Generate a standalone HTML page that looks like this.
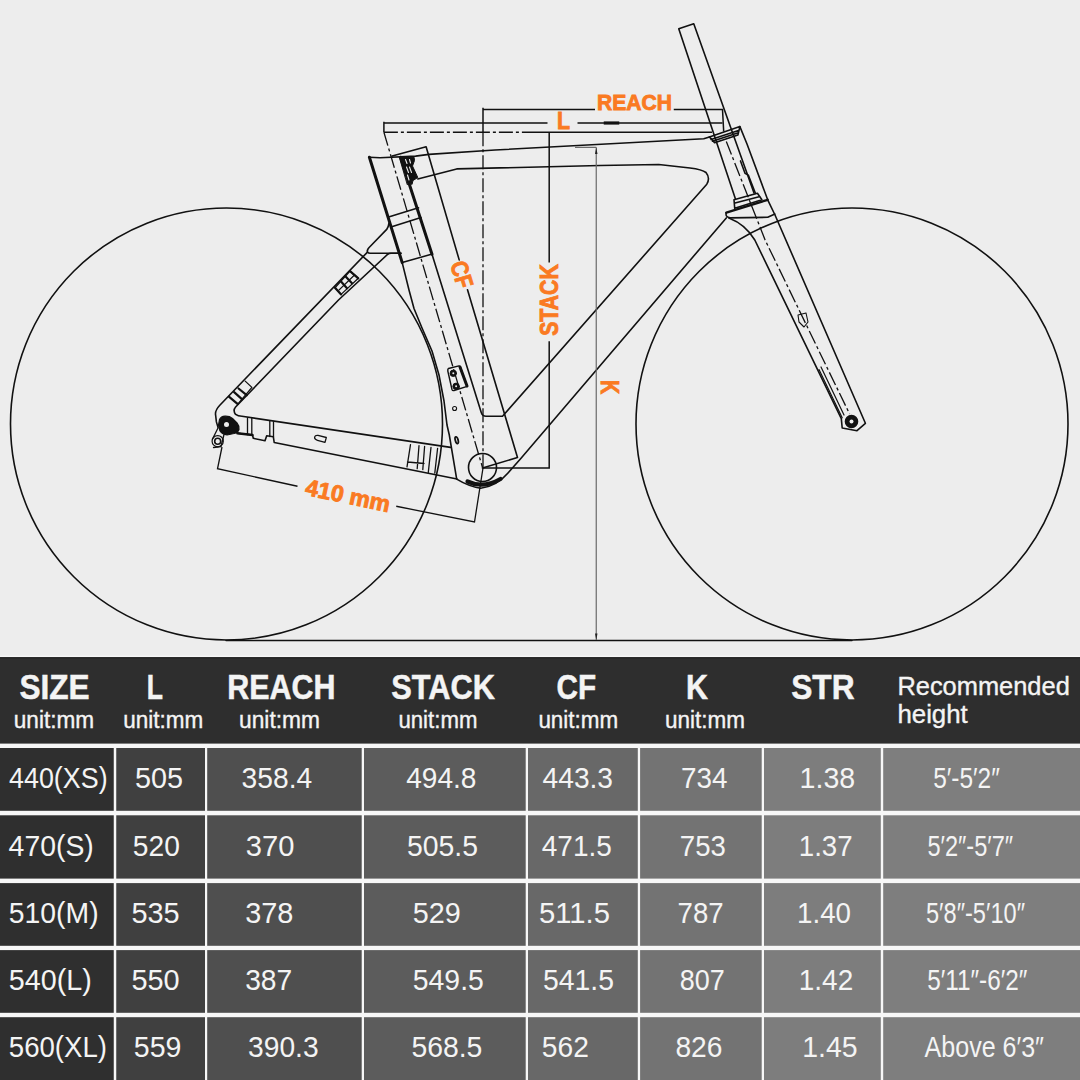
<!DOCTYPE html><html><head><meta charset="utf-8"><style>html,body{margin:0;padding:0;background:#ededed;width:1080px;height:1080px;overflow:hidden}svg{display:block}text{font-family:"Liberation Sans",sans-serif}</style></head><body>
<svg width="1080" height="1080" viewBox="0 0 1080 1080">
<rect x="0" y="0" width="1080" height="1080" fill="#ededed"/>
<g fill="none" stroke="#111" stroke-width="1.6" stroke-linejoin="round" stroke-linecap="round">
<!-- wheels -->
<circle cx="226.5" cy="424" r="216"/>
<circle cx="852" cy="424" r="216"/>
<line x1="226" y1="640.4" x2="852" y2="640.4" stroke-width="1.5"/>
<!-- seat stay -->
<path d="M388.9 223.3 Q388.5 227 386.7 229.4 L368.9 247.8 Q366.5 250.5 367.6 252.3 Q368.5 253.4 370.5 253.3 L401 253.3"/>
<path d="M367 252.6 L219.8 405.2 Q214.8 410.5 215.6 415 L216.4 421.9 L218 427.4"/>
<path d="M401 253.3 L391 253.3 Q389 253.5 387.8 254.2 L338.5 300 L235.6 407 Q232.6 410.5 235.6 414.4 Q238 416.3 242 416.3 L450.6 447.4"/>
<!-- chainstay bottom -->
<path d="M237.4 433.3 L252.5 435 L253.3 438.3 L265 440.8 L266.7 435.8 L273.3 436.7 L274.2 442.5 L457 479"/>
<!-- seat tube rear edge & BB bottom -->
<path d="M402.2 262.6 L409 290 L414 308.5 L422 328 L432 351 L439 375 L444 401 L447 425 L449.3 435 L456.7 479.1 Q468 486 480.7 488.3 Q497 486 508 473 L520.6 458.7 L726.3 217.9"/>
<!-- seatpost -->
<path d="M369.4 157.2 L402.2 262.6" stroke-width="3"/>
<path d="M400.6 157.2 L432 254.3" stroke-width="3"/>
<path d="M432 254.3 L481.25 412.5 Q482.5 416.25 486 416.25 L502.5 416.25 L706.8 184.2 Q710.5 178 706 172.5 Q702 169.5 690 168 L658.75 164.5 L600 165.5 L456.7 168.9 L417.8 178.9"/>
<path d="M389.4 216.8 L418.5 207.8 M392.5 226.5 L421 217.5 M402.2 262.6 L431.4 254.3"/>
<!-- top tube top edge -->
<path d="M369.4 157.2 L380 157.8 L415.6 156.1 L428.9 154.4 L495 150 L703.75 138.75 L709.4 136.9"/>
<!-- seat cluster top + CF line -->
<path d="M392.2 156.1 L426.1 146.7 L459.2 259.9 M467.5 289.7 L517.5 457.5 L482.5 468"/>
<!-- seat clamp -->
<path d="M399.5 156.6 L414.1 157.3 L414.5 160.5 L412.5 166 L417.8 177.5 L413 180.5 L412 184.5 L410 183 L407.6 184.5 Z" fill="#111" stroke-width="1"/><path d="M405.5 159.5 L407 163.5 M409.5 159.5 L410.5 163 M406.5 167 L408.5 172.5 M409.5 167 L411.5 172.5 M407.5 175 L409 180" stroke="#ededed" stroke-width="1.1"/>
<!-- stem / steerer -->
<path d="M678.75 28.75 L693.75 23.75 L754 193 M678.75 28.75 L735.3 198.5"/>
<!-- upper headset -->
<path d="M709.4 136.9 L739.9 126.6 L737.9 135 L714.6 142.8 Z M711 139.5 L738.5 130.5 M712.5 141.2 L738.2 132.8"/>
<!-- head tube right edge + fork right -->
<path d="M739.9 126.6 L747 144 L767.7 199.8 L775 215 L865.4 423.3 L857 430.7 L842.2 428 L841.3 418.7 L754.8 240 Q745.7 224.4 728.9 217.9"/>
<path d="M740.5 160.9 L745 173.2 L748.3 175.1 L755.4 193.3"/>
<!-- lower headset -->
<path d="M734 199.8 L757.4 193.3 L761.9 199.8 L734.7 208.2 Z M735 203 L760 196.5"/>
<path d="M726.3 212.7 L767.7 199.8" stroke-width="2.4"/>
<path d="M726.3 212.7 Q725 217 730 217.9 L767.7 217.3 L774.9 214"/>
<!-- fork details -->
<path d="M819 369.6 L842.2 417.8 M821 367 L844 415" stroke-width="1.2"/>
<path d="M798 315 L806 313 L808 322 L804 327 L799 322 Z" stroke-width="1.1"/>
<circle cx="851.5" cy="421.5" r="6" fill="#111"/>
<circle cx="851.5" cy="421.5" r="2" fill="#ededed" stroke="none"/>
<!-- rear dropout -->
<path d="M218.5 425 L219.5 419.5 Q221 416.5 225 416.2 Q229.5 416 232.5 418.5 L237 423 Q239.5 426 239 429.5 Q238 432.5 234 433.5 L227 435 Q222.5 434.5 220 431 Z" fill="#111" stroke-width="1.2"/>
<circle cx="226.5" cy="424.4" r="2.5" fill="#ededed" stroke="none"/>
<circle cx="217.7" cy="441.2" r="5.6" stroke-width="1.2"/>
<circle cx="217.7" cy="441.2" r="3" stroke-width="1.6"/>
<path d="M218 428 L212.5 439 M224 434.5 L221 446.5 L213.5 447.5" stroke-width="1.3"/>
<path d="M237.4 433.3 L252.5 435" stroke-width="2.4"/>
<!-- seat stay stripes -->
<path d="M228.9 396.7 L237.8 404.1 M234.1 392.2 L242.2 399.3 M238.5 388.5 L246.7 395.2" stroke-width="2.2"/><path d="M245.2 381.1 L251.9 387.4 M237.8 404.1 L251.9 387.4" stroke-width="1.3"/>
<path d="M335 287.8 L341.1 294.4 L358.3 278.3 L350 271.1 Z" stroke-width="1.3"/><path d="M335 287.8 L341.1 294.4 M341 281.5 L347 288.3 M345.6 276.6 L352 283.3 M350 271.1 L358.3 278.3" stroke-width="2.2"/><path d="M339 290 L354.5 275" stroke-width="1.1"/>
<!-- chainstay details -->
<path d="M247.5 418 L247.5 434.5 M251.8 418.5 L251.8 435 M269.8 421 L269.8 436.5 M273.5 421.5 L273.5 437" stroke-width="1.3"/>
<path d="M410.5 444.6 L407 466.9 M419 445.6 L417.2 468.7 M424.6 446.5 L422.8 469.6 M431 447.4 L428.3 472.4 M437.6 448.3 L434.8 473 M407.5 462 L424 463.5" stroke-width="1.3"/>
<path d="M314.6 437.6 Q314.8 435 318 435.4 L326.3 437.5 L325 442.4 L317.5 440.4 Q314.6 439.6 314.6 437.6 Z" stroke-width="1.3"/>
<!-- BB -->
<circle cx="482.5" cy="467.5" r="14"/>
<path d="M467.5 481.5 Q483 489 500.5 479" stroke-width="4.2"/>
<!-- seat tube ports -->
<path d="M448.5 368.5 L458.9 365.9 Q460 366 460.5 367.5 L467.2 386.3 L454 390.5 Q452.5 391 452 389.5 L447.8 371 Q447.5 369 448.5 368.5 Z" stroke-width="1.4"/>
<path d="M460 367 L467 386" stroke-width="3"/>
<circle cx="453.3" cy="373.3" r="3.2" fill="#111" stroke-width="1"/><circle cx="453.3" cy="373.3" r="1" fill="#ededed" stroke="none"/>
<circle cx="456.1" cy="386.3" r="3.2" fill="#111" stroke-width="1"/><circle cx="456.1" cy="386.3" r="1" fill="#ededed" stroke="none"/>
<circle cx="454.6" cy="408.5" r="2" stroke-width="1.1"/>
<ellipse cx="456.7" cy="440.2" rx="1.4" ry="3.5" transform="rotate(-15 456.7 440.2)" stroke-width="1.8"/>
</g>
<!-- dimension lines -->
<g fill="none" stroke="#111" stroke-width="1.5">
<path d="M483 109.5 H595 M673.75 109.5 H722.5 L723.7 131.5"/>
<path d="M383.9 123 H547.5 M577.5 123 H722.5 M383.9 121.7 V132.2"/>
<path d="M603.75 123 H619.25" stroke-width="3.2"/>
<path d="M383.9 132.2 H531" stroke-dasharray="14 3 3 3"/>
<path d="M531 132.2 H712"/>
<path d="M383.9 132.2 L482.5 467.5" stroke-dasharray="14 3 3 3" stroke-width="1.3"/>
<path d="M483 107.8 V132.2"/>
<path d="M483 132.2 V467.5" stroke-dasharray="14 3 3 3" stroke-width="1.3"/>
<path d="M726.3 141.5 L765.1 240 L849.6 414" stroke-dasharray="14 3 3 3" stroke-width="1.3"/>
<path d="M549.2 132.3 V262.5 M549.2 341.25 V468 H482.5"/>
<path d="M222 447 L217.5 468.75 L297.5 486.25 M396.25 506.25 L474.5 522 L483 468" stroke-width="1.3"/>
</g>
<g fill="none" stroke="#6a6a6a" stroke-width="1.2">
<path d="M596.25 147.3 V640 M575 147.3 H596.25"/>
</g>
<path d="M596.25 147.5 L595 154 L597.5 154 Z M596.25 640 L595 633.5 L597.5 633.5 Z" fill="#222"/>
<!-- orange labels -->
<g fill="#fa7a22" stroke="#fa7a22" stroke-width="0.9" font-weight="700" font-family="Liberation Sans, sans-serif">
<text x="597" y="109.5" font-size="22.5" textLength="75" lengthAdjust="spacingAndGlyphs">REACH</text>
<text x="557" y="128.75" font-size="23.5" textLength="13" lengthAdjust="spacingAndGlyphs">L</text>
<text transform="translate(548.6,300) rotate(-90)" x="-35.8" y="8.9" font-size="25" textLength="71.6" lengthAdjust="spacingAndGlyphs">STACK</text>
<text transform="translate(609.5,387) rotate(90)" x="-7.1" y="8.75" font-size="25" textLength="14.2" lengthAdjust="spacingAndGlyphs">K</text>
<text transform="translate(462,274.5) rotate(73)" x="-13.5" y="8.5" font-size="24" textLength="27" lengthAdjust="spacingAndGlyphs">CF</text>
<text transform="translate(348,495.6) rotate(12)" x="-43" y="8" font-size="23" textLength="86" lengthAdjust="spacingAndGlyphs">410 mm</text>
</g>

<rect x="0" y="655.6" width="1080" height="424.4" fill="#f7f7f7"/>
<rect x="0" y="657.2" width="1080" height="86.40" fill="#2e2e2e"/>
<rect x="0" y="657.2" width="1080" height="1.2" fill="#222"/>
<rect x="0" y="748" width="113.75" height="62.80" fill="#2f2f2f"/>
<rect x="116.25" y="748" width="88.75" height="62.80" fill="#404040"/>
<rect x="207.2" y="748" width="154.50" height="62.80" fill="#4f4f4f"/>
<rect x="364" y="748" width="161.70" height="62.80" fill="#5c5c5c"/>
<rect x="528" y="748" width="109.80" height="62.80" fill="#686868"/>
<rect x="640.1" y="748" width="121.60" height="62.80" fill="#737373"/>
<rect x="764" y="748" width="116.80" height="62.80" fill="#7d7d7d"/>
<rect x="883.2" y="748" width="196.80" height="62.80" fill="#7e7e7e"/>
<rect x="0" y="815.3" width="113.75" height="63.30" fill="#2f2f2f"/>
<rect x="116.25" y="815.3" width="88.75" height="63.30" fill="#404040"/>
<rect x="207.2" y="815.3" width="154.50" height="63.30" fill="#4f4f4f"/>
<rect x="364" y="815.3" width="161.70" height="63.30" fill="#5c5c5c"/>
<rect x="528" y="815.3" width="109.80" height="63.30" fill="#686868"/>
<rect x="640.1" y="815.3" width="121.60" height="63.30" fill="#737373"/>
<rect x="764" y="815.3" width="116.80" height="63.30" fill="#7d7d7d"/>
<rect x="883.2" y="815.3" width="196.80" height="63.30" fill="#7e7e7e"/>
<rect x="0" y="883.1" width="113.75" height="62.70" fill="#2f2f2f"/>
<rect x="116.25" y="883.1" width="88.75" height="62.70" fill="#404040"/>
<rect x="207.2" y="883.1" width="154.50" height="62.70" fill="#4f4f4f"/>
<rect x="364" y="883.1" width="161.70" height="62.70" fill="#5c5c5c"/>
<rect x="528" y="883.1" width="109.80" height="62.70" fill="#686868"/>
<rect x="640.1" y="883.1" width="121.60" height="62.70" fill="#737373"/>
<rect x="764" y="883.1" width="116.80" height="62.70" fill="#7d7d7d"/>
<rect x="883.2" y="883.1" width="196.80" height="62.70" fill="#7e7e7e"/>
<rect x="0" y="950.1" width="113.75" height="62.70" fill="#2f2f2f"/>
<rect x="116.25" y="950.1" width="88.75" height="62.70" fill="#404040"/>
<rect x="207.2" y="950.1" width="154.50" height="62.70" fill="#4f4f4f"/>
<rect x="364" y="950.1" width="161.70" height="62.70" fill="#5c5c5c"/>
<rect x="528" y="950.1" width="109.80" height="62.70" fill="#686868"/>
<rect x="640.1" y="950.1" width="121.60" height="62.70" fill="#737373"/>
<rect x="764" y="950.1" width="116.80" height="62.70" fill="#7d7d7d"/>
<rect x="883.2" y="950.1" width="196.80" height="62.70" fill="#7e7e7e"/>
<rect x="0" y="1017.2" width="113.75" height="62.80" fill="#2f2f2f"/>
<rect x="116.25" y="1017.2" width="88.75" height="62.80" fill="#404040"/>
<rect x="207.2" y="1017.2" width="154.50" height="62.80" fill="#4f4f4f"/>
<rect x="364" y="1017.2" width="161.70" height="62.80" fill="#5c5c5c"/>
<rect x="528" y="1017.2" width="109.80" height="62.80" fill="#686868"/>
<rect x="640.1" y="1017.2" width="121.60" height="62.80" fill="#737373"/>
<rect x="764" y="1017.2" width="116.80" height="62.80" fill="#7d7d7d"/>
<rect x="883.2" y="1017.2" width="196.80" height="62.80" fill="#7e7e7e"/>
<text x="19.40" y="698.6" font-size="35" font-weight="700" fill="#f4f4f4" textLength="70.20" lengthAdjust="spacingAndGlyphs" stroke="#f4f4f4" stroke-width="0.5">SIZE</text>
<text x="146.80" y="698.6" font-size="35" font-weight="700" fill="#f4f4f4" textLength="16.20" lengthAdjust="spacingAndGlyphs" stroke="#f4f4f4" stroke-width="0.5">L</text>
<text x="227.20" y="698.6" font-size="35" font-weight="700" fill="#f4f4f4" textLength="108.20" lengthAdjust="spacingAndGlyphs" stroke="#f4f4f4" stroke-width="0.5">REACH</text>
<text x="391.20" y="698.6" font-size="35" font-weight="700" fill="#f4f4f4" textLength="103.80" lengthAdjust="spacingAndGlyphs" stroke="#f4f4f4" stroke-width="0.5">STACK</text>
<text x="556.60" y="698.6" font-size="35" font-weight="700" fill="#f4f4f4" textLength="39.60" lengthAdjust="spacingAndGlyphs" stroke="#f4f4f4" stroke-width="0.5">CF</text>
<text x="686.00" y="698.6" font-size="35" font-weight="700" fill="#f4f4f4" textLength="22.00" lengthAdjust="spacingAndGlyphs" stroke="#f4f4f4" stroke-width="0.5">K</text>
<text x="791.20" y="698.6" font-size="35" font-weight="700" fill="#f4f4f4" textLength="63.40" lengthAdjust="spacingAndGlyphs" stroke="#f4f4f4" stroke-width="0.5">STR</text>
<text x="13.80" y="728.2" font-size="23" font-weight="400" fill="#f4f4f4" textLength="80.40" lengthAdjust="spacingAndGlyphs" stroke="#f4f4f4" stroke-width="0.35">unit:mm</text>
<text x="123.20" y="728.2" font-size="23" font-weight="400" fill="#f4f4f4" textLength="80.00" lengthAdjust="spacingAndGlyphs" stroke="#f4f4f4" stroke-width="0.35">unit:mm</text>
<text x="239.00" y="728.2" font-size="23" font-weight="400" fill="#f4f4f4" textLength="81.00" lengthAdjust="spacingAndGlyphs" stroke="#f4f4f4" stroke-width="0.35">unit:mm</text>
<text x="398.40" y="728.2" font-size="23" font-weight="400" fill="#f4f4f4" textLength="79.00" lengthAdjust="spacingAndGlyphs" stroke="#f4f4f4" stroke-width="0.35">unit:mm</text>
<text x="538.40" y="728.2" font-size="23" font-weight="400" fill="#f4f4f4" textLength="79.80" lengthAdjust="spacingAndGlyphs" stroke="#f4f4f4" stroke-width="0.35">unit:mm</text>
<text x="665.00" y="728.2" font-size="23" font-weight="400" fill="#f4f4f4" textLength="80.00" lengthAdjust="spacingAndGlyphs" stroke="#f4f4f4" stroke-width="0.35">unit:mm</text>
<text x="897.40" y="694.7" font-size="25" font-weight="400" fill="#f4f4f4" textLength="172.40" lengthAdjust="spacingAndGlyphs" stroke="#f4f4f4" stroke-width="0.35">Recommended</text>
<text x="897.40" y="722.5" font-size="25" font-weight="400" fill="#f4f4f4" textLength="70.40" lengthAdjust="spacingAndGlyphs" stroke="#f4f4f4" stroke-width="0.35">height</text>
<text x="9.00" y="788.2" font-size="29.9" font-weight="400" fill="#f4f4f4" textLength="98.60" lengthAdjust="spacingAndGlyphs">440(XS)</text>
<text x="135.00" y="788.2" font-size="29.9" font-weight="400" fill="#f4f4f4" textLength="48.00" lengthAdjust="spacingAndGlyphs">505</text>
<text x="241.60" y="788.2" font-size="29.9" font-weight="400" fill="#f4f4f4" textLength="70.60" lengthAdjust="spacingAndGlyphs">358.4</text>
<text x="406.20" y="788.2" font-size="29.9" font-weight="400" fill="#f4f4f4" textLength="70.20" lengthAdjust="spacingAndGlyphs">494.8</text>
<text x="542.60" y="788.2" font-size="29.9" font-weight="400" fill="#f4f4f4" textLength="70.40" lengthAdjust="spacingAndGlyphs">443.3</text>
<text x="681.00" y="788.2" font-size="29.9" font-weight="400" fill="#f4f4f4" textLength="46.40" lengthAdjust="spacingAndGlyphs">734</text>
<text x="799.60" y="788.2" font-size="29.9" font-weight="400" fill="#f4f4f4" textLength="55.60" lengthAdjust="spacingAndGlyphs">1.38</text>
<text x="933.20" y="788.2" font-size="29.9" font-weight="400" fill="#f4f4f4" textLength="66.60" lengthAdjust="spacingAndGlyphs">5′-5′2″</text>
<text x="8.60" y="855.5" font-size="29.9" font-weight="400" fill="#f4f4f4" textLength="85.20" lengthAdjust="spacingAndGlyphs">470(S)</text>
<text x="132.80" y="855.5" font-size="29.9" font-weight="400" fill="#f4f4f4" textLength="47.00" lengthAdjust="spacingAndGlyphs">520</text>
<text x="245.80" y="855.5" font-size="29.9" font-weight="400" fill="#f4f4f4" textLength="48.60" lengthAdjust="spacingAndGlyphs">370</text>
<text x="407.00" y="855.5" font-size="29.9" font-weight="400" fill="#f4f4f4" textLength="71.00" lengthAdjust="spacingAndGlyphs">505.5</text>
<text x="541.80" y="855.5" font-size="29.9" font-weight="400" fill="#f4f4f4" textLength="70.00" lengthAdjust="spacingAndGlyphs">471.5</text>
<text x="679.80" y="855.5" font-size="29.9" font-weight="400" fill="#f4f4f4" textLength="46.00" lengthAdjust="spacingAndGlyphs">753</text>
<text x="798.80" y="855.5" font-size="29.9" font-weight="400" fill="#f4f4f4" textLength="53.80" lengthAdjust="spacingAndGlyphs">1.37</text>
<text x="927.40" y="855.5" font-size="29.9" font-weight="400" fill="#f4f4f4" textLength="85.80" lengthAdjust="spacingAndGlyphs">5′2″-5′7″</text>
<text x="8.80" y="922.8" font-size="29.9" font-weight="400" fill="#f4f4f4" textLength="89.80" lengthAdjust="spacingAndGlyphs">510(M)</text>
<text x="131.40" y="922.8" font-size="29.9" font-weight="400" fill="#f4f4f4" textLength="48.20" lengthAdjust="spacingAndGlyphs">535</text>
<text x="245.20" y="922.8" font-size="29.9" font-weight="400" fill="#f4f4f4" textLength="48.20" lengthAdjust="spacingAndGlyphs">378</text>
<text x="412.80" y="922.8" font-size="29.9" font-weight="400" fill="#f4f4f4" textLength="48.00" lengthAdjust="spacingAndGlyphs">529</text>
<text x="539.00" y="922.8" font-size="29.9" font-weight="400" fill="#f4f4f4" textLength="71.00" lengthAdjust="spacingAndGlyphs">511.5</text>
<text x="677.60" y="922.8" font-size="29.9" font-weight="400" fill="#f4f4f4" textLength="46.00" lengthAdjust="spacingAndGlyphs">787</text>
<text x="797.00" y="922.8" font-size="29.9" font-weight="400" fill="#f4f4f4" textLength="54.00" lengthAdjust="spacingAndGlyphs">1.40</text>
<text x="926.00" y="922.8" font-size="29.9" font-weight="400" fill="#f4f4f4" textLength="99.00" lengthAdjust="spacingAndGlyphs">5′8″-5′10″</text>
<text x="8.80" y="989.9" font-size="29.9" font-weight="400" fill="#f4f4f4" textLength="83.00" lengthAdjust="spacingAndGlyphs">540(L)</text>
<text x="131.40" y="989.9" font-size="29.9" font-weight="400" fill="#f4f4f4" textLength="48.20" lengthAdjust="spacingAndGlyphs">550</text>
<text x="245.20" y="989.9" font-size="29.9" font-weight="400" fill="#f4f4f4" textLength="47.00" lengthAdjust="spacingAndGlyphs">387</text>
<text x="412.80" y="989.9" font-size="29.9" font-weight="400" fill="#f4f4f4" textLength="71.00" lengthAdjust="spacingAndGlyphs">549.5</text>
<text x="543.00" y="989.9" font-size="29.9" font-weight="400" fill="#f4f4f4" textLength="71.00" lengthAdjust="spacingAndGlyphs">541.5</text>
<text x="679.80" y="989.9" font-size="29.9" font-weight="400" fill="#f4f4f4" textLength="45.00" lengthAdjust="spacingAndGlyphs">807</text>
<text x="798.80" y="989.9" font-size="29.9" font-weight="400" fill="#f4f4f4" textLength="54.40" lengthAdjust="spacingAndGlyphs">1.42</text>
<text x="927.20" y="989.9" font-size="29.9" font-weight="400" fill="#f4f4f4" textLength="100.20" lengthAdjust="spacingAndGlyphs">5′11″-6′2″</text>
<text x="8.80" y="1056.9" font-size="29.9" font-weight="400" fill="#f4f4f4" textLength="98.20" lengthAdjust="spacingAndGlyphs">560(XL)</text>
<text x="133.80" y="1056.9" font-size="29.9" font-weight="400" fill="#f4f4f4" textLength="47.60" lengthAdjust="spacingAndGlyphs">559</text>
<text x="248.00" y="1056.9" font-size="29.9" font-weight="400" fill="#f4f4f4" textLength="70.60" lengthAdjust="spacingAndGlyphs">390.3</text>
<text x="411.40" y="1056.9" font-size="29.9" font-weight="400" fill="#f4f4f4" textLength="71.00" lengthAdjust="spacingAndGlyphs">568.5</text>
<text x="541.80" y="1056.9" font-size="29.9" font-weight="400" fill="#f4f4f4" textLength="47.00" lengthAdjust="spacingAndGlyphs">562</text>
<text x="675.40" y="1056.9" font-size="29.9" font-weight="400" fill="#f4f4f4" textLength="47.00" lengthAdjust="spacingAndGlyphs">826</text>
<text x="802.20" y="1056.9" font-size="29.9" font-weight="400" fill="#f4f4f4" textLength="55.40" lengthAdjust="spacingAndGlyphs">1.45</text>
<text x="924.60" y="1056.9" font-size="29.9" font-weight="400" fill="#f4f4f4" textLength="119.40" lengthAdjust="spacingAndGlyphs">Above 6′3″</text>
</svg></body></html>
